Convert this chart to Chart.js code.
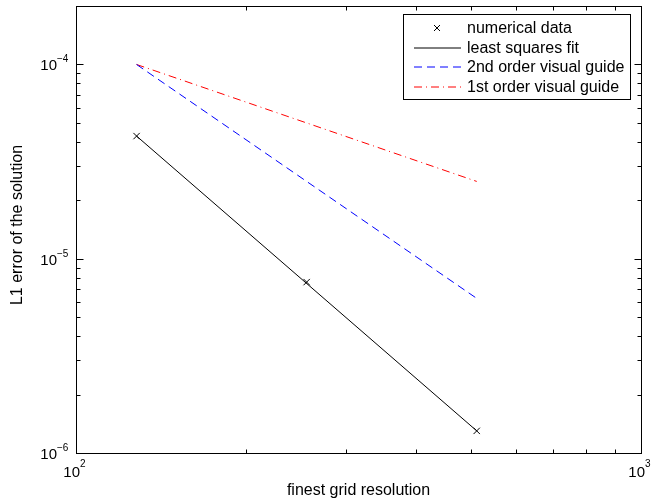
<!DOCTYPE html>
<html>
<head>
<meta charset="utf-8">
<script src="https://cdn.jsdelivr.net/npm/chart.js@4/dist/chart.umd.min.js"></script>
<style>
  html, body { margin: 0; padding: 0; background: #fff; }
  #wrap { width: 654px; height: 502px; }
</style>
</head>
<body>
<div id="wrap"><canvas id="c" width="654" height="502"></canvas></div>
<script>
const gridSizes = [128, 256, 512];
const errors = [4.28e-5, 7.58e-6, 1.30e-6];
const fitX = [128, 512];
const fitY = [4.28e-5, 1.30e-6];
const guideX = [128, 512];
const secondOrder = [1e-4, 6.25e-6];
const firstOrder = [1e-4, 2.5e-5];

const xMajor = [100, 1000];
const xExp = ["2", "3"];
const xMinor = [200, 300, 400, 500, 600, 700, 800, 900];
const yMajor = [1e-6, 1e-5, 1e-4];
const yExp = ["\u22126", "\u22125", "\u22124"];
const yMinor = [2e-6, 3e-6, 4e-6, 5e-6, 6e-6, 7e-6, 8e-6, 9e-6,
                2e-5, 3e-5, 4e-5, 5e-5, 6e-5, 7e-5, 8e-5, 9e-5, 2e-4];

const FONT = "Liberation Sans, Arial, Helvetica, sans-serif";
const legendColors = ["#000000", "#000000", "#0000ff", "#ff0000"];
const legendDashes = [null, [], [8, 5], [8, 4, 1, 4]];

const pts = (xs, ys) => xs.map((x, i) => ({ x: x, y: ys[i] }));

// legend sample drawn as a tiny line between two points, through a chart-like path
function legendSample(ctx, i, y) {
  ctx.save();
  ctx.lineWidth = 1;
  ctx.strokeStyle = legendColors[i];
  if (legendDashes[i] === null) {
    ctx.beginPath();
    ctx.moveTo(434, y - 3); ctx.lineTo(440, y + 3);
    ctx.moveTo(440, y - 3); ctx.lineTo(434, y + 3);
    ctx.stroke();
  } else {
    ctx.setLineDash(legendDashes[i]);
    ctx.beginPath();
    ctx.moveTo(414, y);
    ctx.lineTo(461, y + 0.01);
    ctx.stroke();
  }
  ctx.restore();
}

const matlabAxes = {
  id: "matlabAxes",
  afterDraw(chart) {
    const ctx = chart.ctx;
    const a = chart.chartArea;
    const xs = chart.scales.x, ys = chart.scales.y;
    ctx.save();
    ctx.strokeStyle = "#000";
    ctx.lineWidth = 1;
    ctx.strokeRect(Math.round(a.left) + 0.5, Math.round(a.top) + 0.5,
      Math.round(a.right - a.left), Math.round(a.bottom - a.top));

    const tick = (x1, y1, x2, y2) => {
      ctx.beginPath(); ctx.moveTo(x1, y1); ctx.lineTo(x2, y2); ctx.stroke();
    };
    const top = Math.round(a.top) + 0.5, bot = Math.round(a.bottom) + 0.5;
    const lef = Math.round(a.left) + 0.5, rig = Math.round(a.right) + 0.5;
    xMajor.concat(xMinor).forEach((v) => {
      const len = xMajor.includes(v) ? 7 : 4;
      const px = Math.round(xs.getPixelForValue(v)) + 0.5;
      tick(px, bot, px, bot - len);
      tick(px, top, px, top + len);
    });
    yMajor.concat(yMinor).forEach((v) => {
      const len = yMajor.includes(v) ? 7 : 4;
      const py = Math.round(ys.getPixelForValue(v)) + 0.5;
      tick(lef, py, lef + len, py);
      tick(rig, py, rig - len, py);
    });

    // tick labels
    ctx.fillStyle = "#000";
    ctx.textBaseline = "alphabetic";
    xMajor.forEach((v, i) => {
      const px = xs.getPixelForValue(v);
      ctx.font = "15px " + FONT;
      ctx.textAlign = "right";
      ctx.fillText("10", px + 4, a.bottom + 24);
      ctx.font = "10px " + FONT;
      ctx.textAlign = "left";
      ctx.fillText(xExp[i], px + 4, a.bottom + 14);
    });
    yMajor.forEach((v, i) => {
      const py = ys.getPixelForValue(v);
      ctx.font = "10px " + FONT;
      ctx.textAlign = "left";
      ctx.fillText(yExp[i], a.left - 19, py - 2);
      ctx.font = "15px " + FONT;
      ctx.textAlign = "right";
      ctx.fillText("10", a.left - 19, py + 6);
    });

    // axis titles
    ctx.font = "16px " + FONT;
    ctx.textAlign = "center";
    ctx.fillText("finest grid resolution", (a.left + a.right) / 2, 495);
    ctx.save();
    ctx.translate(18, 225);
    ctx.rotate(-Math.PI / 2);
    ctx.textBaseline = "middle";
    ctx.fillText("L1 error of the solution", 0, 0);
    ctx.restore();

    // legend
    const lx = 403.5, ly = 14.5, lw = 227, lh = 85;
    ctx.fillStyle = "#fff";
    ctx.fillRect(lx, ly, lw, lh);
    ctx.strokeStyle = "#000";
    ctx.strokeRect(lx, ly, lw, lh);
    ctx.font = "16px " + FONT;
    ctx.textAlign = "left";
    ctx.textBaseline = "middle";
    chart.data.datasets.forEach((ds, i) => {
      const y = 28 + i * 19.5;
      ctx.fillStyle = "#000";
      ctx.fillText(ds.label, 467, y + 1);
      legendSample(ctx, i, Math.round(y));
    });
    ctx.restore();
  }
};

new Chart(document.getElementById("c"), {
  type: "scatter",
  data: {
    datasets: [
      {
        label: "numerical data",
        data: pts(gridSizes, errors),
        showLine: false,
        borderColor: legendColors[0],
        backgroundColor: legendColors[0],
        pointStyle: "crossRot",
        pointRadius: 4.5,
        pointBorderWidth: 1,
      },
      {
        label: "least squares fit",
        data: pts(fitX, fitY),
        showLine: true,
        borderColor: legendColors[1],
        borderWidth: 1,
        pointRadius: 0,
      },
      {
        label: "2nd order visual guide",
        data: pts(guideX, secondOrder),
        showLine: true,
        borderColor: legendColors[2],
        borderWidth: 1,
        borderDash: legendDashes[2],
        pointRadius: 0,
      },
      {
        label: "1st order visual guide",
        data: pts(guideX, firstOrder),
        showLine: true,
        borderColor: legendColors[3],
        borderWidth: 1,
        borderDash: legendDashes[3],
        pointRadius: 0,
      },
    ],
  },
  options: {
    responsive: false,
    animation: false,
    layout: { padding: { left: 76, top: 6, right: 13, bottom: 49 } },
    plugins: { legend: { display: false }, tooltip: { enabled: false } },
    scales: {
      x: { type: "logarithmic", min: 100, max: 1000, display: false },
      y: { type: "logarithmic", min: 1e-6, max: 2e-4, display: false },
    },
  },
  plugins: [matlabAxes],
});
</script>
</body>
</html>
